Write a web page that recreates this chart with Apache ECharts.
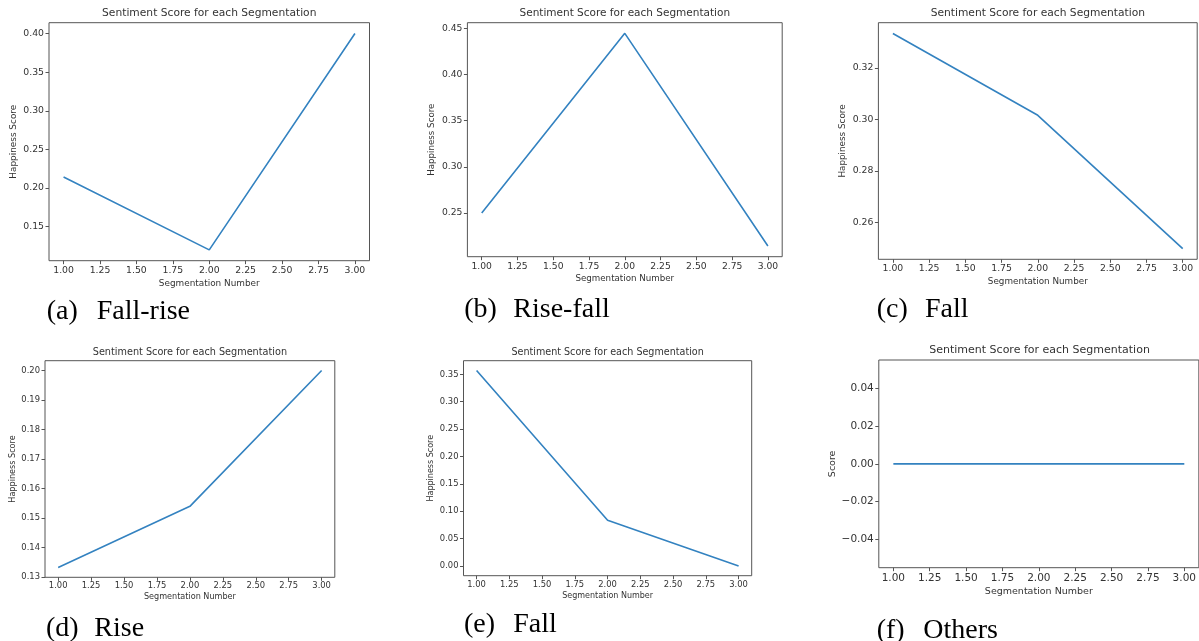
<!DOCTYPE html>
<html><head><meta charset="utf-8">
<script src="https://cdn.jsdelivr.net/npm/echarts@6/dist/echarts.min.js"></script>
<style>html,body{margin:0;padding:0;background:#fff}#c{width:1199px;height:641px}</style>
</head><body><div id="c"></div>
<script>
// ---- data ----
const segments = [1, 2, 3];
const xTicks = [1.00, 1.25, 1.50, 1.75, 2.00, 2.25, 2.50, 2.75, 3.00];
const scoreA = [0.2143, 0.1200, 0.4000];
const scoreB = [0.2500, 0.4444, 0.2143];
const scoreC = [0.3333, 0.3016, 0.2500];
const scoreD = [0.1333, 0.1540, 0.2000];
const scoreE = [0.3571, 0.0833, 0.0000];
const scoreF = [0.0000, 0.0000, 0.0000];
const yTicksA = [0.15, 0.20, 0.25, 0.30, 0.35, 0.40];
const yTicksB = [0.25, 0.30, 0.35, 0.40, 0.45];
const yTicksC = [0.26, 0.28, 0.30, 0.32];
const yTicksD = [0.13, 0.14, 0.15, 0.16, 0.17, 0.18, 0.19, 0.20];
const yTicksE = [0.00, 0.05, 0.10, 0.15, 0.20, 0.25, 0.30, 0.35];
const yTicksF = [-0.04, -0.02, 0.00, 0.02, 0.04];
const chartTitle = 'Sentiment Score for each Segmentation';
const xAxisName = 'Segmentation Number';
const yAxisNames = ['Happiness Score', 'Happiness Score', 'Happiness Score', 'Happiness Score', 'Happiness Score', 'Score'];
const captionLetters = ['(a)', '(b)', '(c)', '(d)', '(e)', '(f)'];
const captionNames = ['Fall-rise', 'Rise-fall', 'Fall', 'Rise', 'Fall', 'Others'];

const scores = [scoreA, scoreB, scoreC, scoreD, scoreE, scoreF];
const yTicks = [yTicksA, yTicksB, yTicksC, yTicksD, yTicksE, yTicksF];

// ---- layout (pixels) ----
const layout = [
  {l: 49.0, t: 22.7, w: 320.5, h: 238.0, ty: 13.3, fT: 10.7, fL: 9.3, fN: 8.9, gx: 18.0, gy: 30.5, cl: 46.7, cn: 96.7, cy: 312},
  {l: 467.4, t: 22.7, w: 314.8, h: 234.0, ty: 13.3, fT: 10.5, fL: 9.2, fN: 8.7, gx: 17.2, gy: 30.8, cl: 464.3, cn: 513.3, cy: 310},
  {l: 878.4, t: 22.7, w: 318.8, h: 236.6, ty: 13.3, fT: 10.7, fL: 9.3, fN: 8.8, gx: 18.0, gy: 30.8, cl: 876.7, cn: 925, cy: 309.5},
  {l: 45.0, t: 360.7, w: 289.8, h: 216.6, ty: 352, fT: 9.7, fL: 8.4, fN: 8.1, gx: 16.0, gy: 28.3, cl: 46, cn: 94.3, cy: 628.5},
  {l: 463.5, t: 360.7, w: 288.2, h: 215.0, ty: 352, fT: 9.6, fL: 8.4, fN: 8.0, gx: 16.0, gy: 28.5, cl: 464, cn: 513.3, cy: 624.5},
  {l: 878.8, t: 360.0, w: 321.5, h: 207.7, ty: 350, fT: 11.0, fL: 10.5, fN: 9.5, gx: 19.2, gy: 41.5, cl: 876.7, cn: 923.3, cy: 631}
];

const FONT = '"DejaVu Sans", sans-serif';
const SERIF = '"Liberation Serif", "Times New Roman", serif';
const LINE = '#3382c0';
const FRAME = '#555555';
const TEXT = '#333333';

function mplRange(vals) {
  let lo = Math.min(...vals), hi = Math.max(...vals);
  if (lo === hi) { lo -= 0.05; hi += 0.05; }
  const m = (hi - lo) * 0.05;
  return [lo - m, hi + m];
}
const fmtY = v => (v < -1e-9 ? '\u2212' : '') + Math.abs(v).toFixed(2);
const fmtX = v => v.toFixed(2);

const grid = [], xAxis = [], yAxis = [], series = [], graphic = [];
layout.forEach((L, i) => {
  grid.push({left: L.l, top: L.t, width: L.w, height: L.h, show: true,
    borderColor: FRAME, borderWidth: 1, backgroundColor: 'transparent', containLabel: false});
  xAxis.push({type: 'value', gridIndex: i, min: 0.9, max: 3.1,
    name: xAxisName, nameLocation: 'middle', nameGap: L.gx,
    nameTextStyle: {fontFamily: FONT, fontSize: L.fN, color: TEXT},
    axisLine: {show: false, onZero: false},
    axisTick: {show: true, length: 3.5, customValues: xTicks, lineStyle: {color: FRAME}},
    axisLabel: {customValues: xTicks, formatter: fmtX, margin: 5, fontFamily: FONT, fontSize: L.fL, color: TEXT},
    splitLine: {show: false}});
  const r = mplRange(scores[i]);
  yAxis.push({type: 'value', gridIndex: i, min: r[0], max: r[1],
    name: yAxisNames[i], nameLocation: 'middle', nameGap: L.gy,
    nameTextStyle: {fontFamily: FONT, fontSize: L.fN, color: TEXT},
    axisLine: {show: false, onZero: false},
    axisTick: {show: true, length: 3.5, customValues: yTicks[i], lineStyle: {color: FRAME}},
    axisLabel: {customValues: yTicks[i], formatter: fmtY, margin: 5, fontFamily: FONT, fontSize: L.fL, color: TEXT},
    splitLine: {show: false}});
  series.push({type: 'line', xAxisIndex: i, yAxisIndex: i, symbol: 'none',
    lineStyle: {color: LINE, width: 1.6}, itemStyle: {color: LINE},
    data: segments.map((x, j) => [x, scores[i][j]])});
  graphic.push({type: 'text', x: L.l + L.w / 2, y: L.ty,
    style: {text: chartTitle, fontFamily: FONT, fontSize: L.fT, fill: TEXT, align: 'center', verticalAlign: 'middle'}});
  graphic.push({type: 'text', x: L.cl, y: L.cy,
    style: {text: captionLetters[i], fontFamily: SERIF, fontSize: 28, fill: '#000', align: 'left', verticalAlign: 'middle'}});
  graphic.push({type: 'text', x: L.cn, y: L.cy,
    style: {text: captionNames[i], fontFamily: SERIF, fontSize: 28, fill: '#000', align: 'left', verticalAlign: 'middle'}});
});

const chart = echarts.init(document.getElementById('c'), null, {renderer: 'canvas'});
chart.setOption({animation: false, backgroundColor: '#fff', grid, xAxis, yAxis, series, graphic});
</script>
</body></html>
